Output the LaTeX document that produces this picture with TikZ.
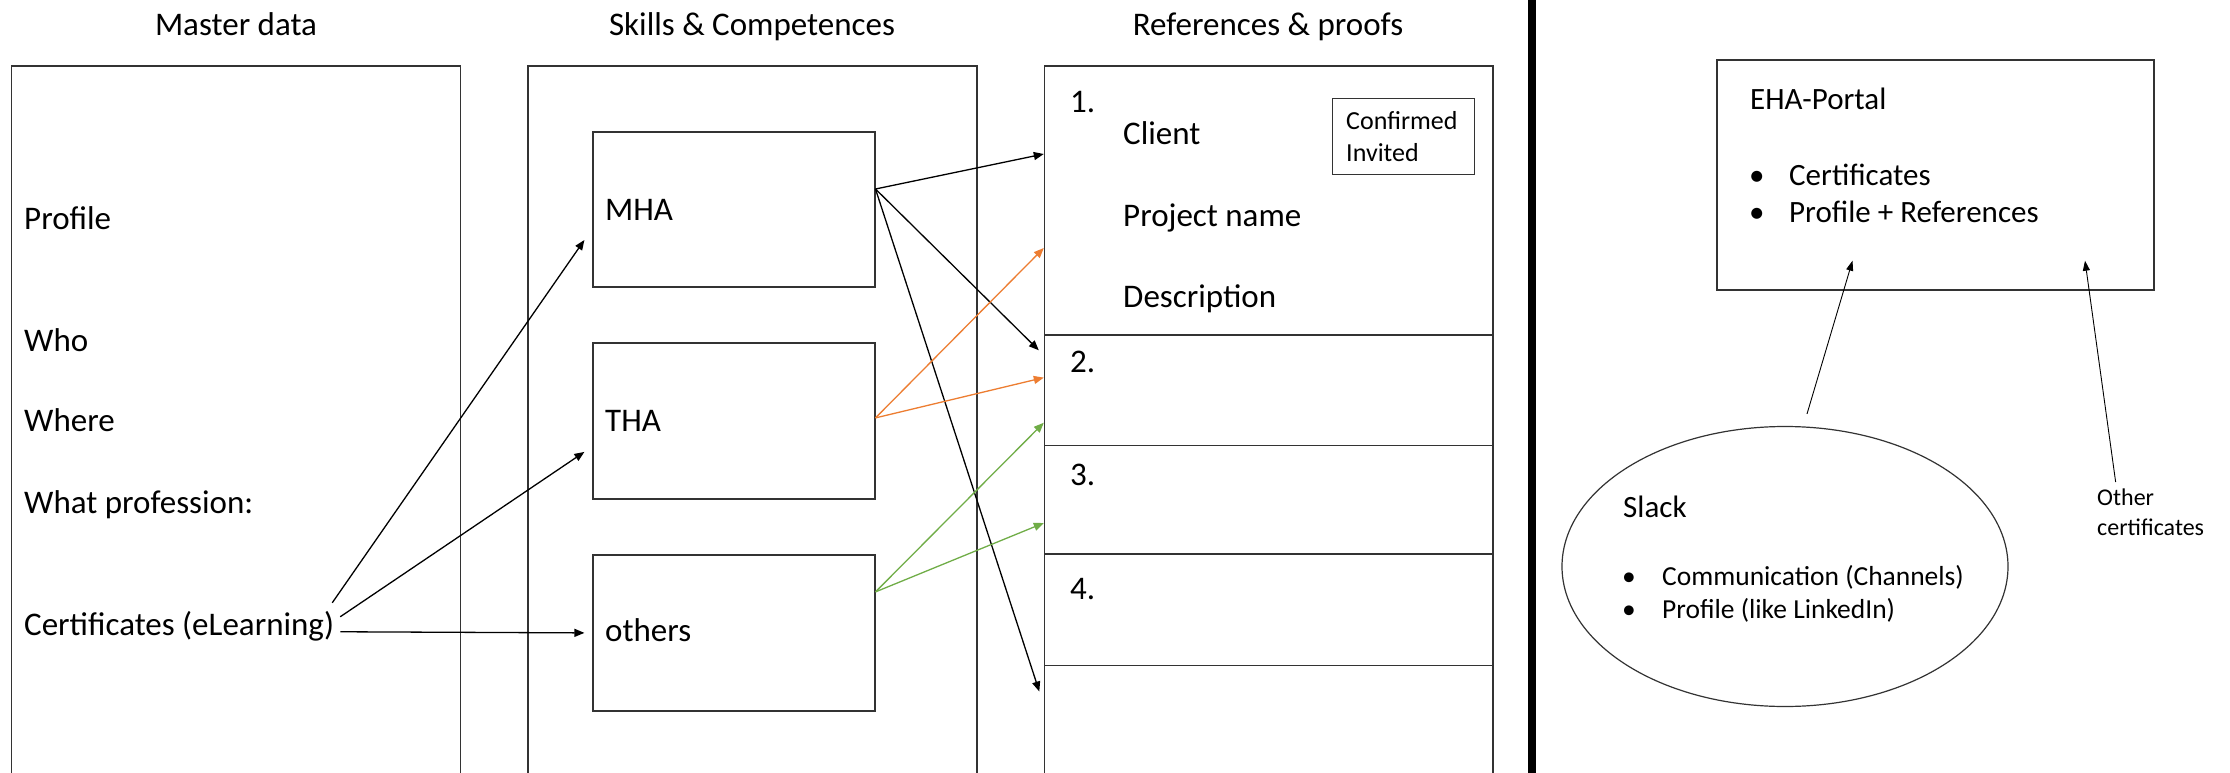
\documentclass[tikz,border=0pt]{standalone}
\usepackage{fontspec}
\setmainfont{Carlito}
\usetikzlibrary{arrows.meta,shapes.geometric}
\definecolor{offorange}{HTML}{ED7D31}
\definecolor{offgreen}{HTML}{70AD47}
\begin{document}
\begin{tikzpicture}[x=1pt,y=-1pt,
  box/.style={draw=black!80, line width=1.4pt, rectangle, inner sep=0pt},
  txt/.style={inner sep=0pt, anchor=base west, font=\fontsize{33}{40}\selectfont},
  head/.style={inner sep=0pt, anchor=base, font=\fontsize{33}{40}\selectfont},
  mid/.style={inner sep=0pt, anchor=base west, font=\fontsize{31}{37}\selectfont},
  small/.style={inner sep=0pt, anchor=base west, font=\fontsize{27.5}{33}\selectfont},
  conn/.style={line width=1.3pt, -{Triangle[length=10pt,width=8pt]}},
  thinconn/.style={line width=0.9pt, -{Triangle[length=10pt,width=7pt]}}
]
\clip (0,0) rectangle (2230,773);
\fill[white] (0,0) rectangle (2230,773);

% headings
\node[head] (hmaster) at (236,36) {Master data};
\node[head] (hskills) at (752,36) {Skills \& Competences};
\node[head] (hrefs) at (1268,36) {References \& proofs};

% column boxes
\node[box, minimum width=449pt, minimum height=734pt] (master) at (236,433) {};
\node[box, minimum width=449pt, minimum height=734pt] (skills) at (752.3,433) {};

% master texts
\node[txt] (profile) at (24,229) {Profile};
\node[txt] (who) at (24,351) {Who};
\node[txt] (where) at (24,431) {Where};
\node[txt] (prof) at (24,513) {What profession:};
\node[txt] (cert) at (24,635) {Certificates (eLearning)};

% skill boxes
\node[box, minimum width=282pt, minimum height=155pt] (mha) at (733.8,209.5) {};
\node[box, minimum width=282pt, minimum height=156pt] (tha) at (733.8,420.9) {};
\node[box, minimum width=282pt, minimum height=156pt] (others) at (733.8,632.9) {};
\node[txt] (tmha) at (605,220) {MHA};
\node[txt] (ttha) at (605,431) {THA};
\node[txt] (tothers) at (605,641) {others};

% reference rows
\node[box, minimum width=448.5pt, minimum height=269pt] (ref1) at (1268.75,200.5) {};
\node[box, minimum width=448.5pt, minimum height=110.6pt] (ref2) at (1268.75,390.3) {};
\node[box, minimum width=448.5pt, minimum height=108.4pt] (ref3) at (1268.75,499.8) {};
\node[box, minimum width=448.5pt, minimum height=111.6pt] (ref4) at (1268.75,609.8) {};
\node[box, minimum width=448.5pt, minimum height=134.4pt] (ref5) at (1268.75,732.8) {};
\node[txt] (n1) at (1070,113) {1.};
\node[txt] (client) at (1123,145) {Client};
\node[txt] (pname) at (1123,226.5) {Project name};
\node[txt] (desc) at (1123,307) {Description};
\node[txt] (n2) at (1070,372) {2.};
\node[txt] (n3) at (1070,485) {3.};
\node[txt] (n4) at (1070,599) {4.};
\node[box, anchor=north west, minimum width=142pt, minimum height=76pt,
      align=left, inner xsep=14pt, text width=114pt,
      font=\fontsize{26}{32}\selectfont] (conf) at (1331.5,98) {Confirmed\\Invited};

% separator
\draw[line width=8pt] (1532,-5) -- (1532,780);

% EHA portal
\node[box, minimum width=437pt, minimum height=230pt] (eha) at (1935.5,175) {};
\node[mid] (ehat) at (1750,110) {EHA-Portal};
\node[mid] (b1) at (1749,185) {•};
\node[mid] (ecert) at (1789,185) {Certificates};
\node[mid] (b2) at (1749,222.7) {•};
\node[mid] (eprof) at (1789,222.7) {Profile + References};

% Slack ellipse
\node[draw=black!80, line width=1.2pt, ellipse, inner sep=0pt,
      minimum width=446pt, minimum height=280pt] (slack) at (1785,566.5) {};
\node[mid] (slackt) at (1623,517) {Slack};
\node[small] (sb1) at (1622,585.6) {•};
\node[small] (comm) at (1662,585.6) {Communication (Channels)};
\node[small] (sb2) at (1622,618.5) {•};
\node[small] (sprof) at (1662,618.5) {Profile (like LinkedIn)};

% Other certificates
\node[inner sep=0pt, anchor=north west, align=left,
      font=\fontsize{24}{30}\selectfont] (other) at (2097,489) {Other\\certificates};

% connectors: master -> skills
\draw[conn] ([xshift=-2pt,yshift=23pt]cert.east) -- ([xshift=-7.7pt,yshift=-30.5pt]mha.west);
\draw[conn] ([xshift=6pt,yshift=9pt]cert.east) -- ([xshift=-7.7pt,yshift=-31pt]tha.west);
\draw[conn] ([xshift=6pt,yshift=-6pt]cert.east) -- ([xshift=-7.7pt]others.west);

% skills -> references
\draw[conn] ([yshift=20.5pt]mha.east) -- ([yshift=46.5pt]ref1.west);
\draw[conn] ([yshift=20.5pt]mha.east) -- ([xshift=-5pt,yshift=40pt]ref2.west);
\draw[conn] ([yshift=20.5pt]mha.east) -- ([xshift=-4.5pt,yshift=41.3pt]ref5.west);
\draw[conn, offorange] ([yshift=3pt]tha.east) -- ([yshift=-47.5pt]ref1.west);
\draw[conn, offorange] ([yshift=3pt]tha.east) -- ([yshift=12.7pt]ref2.west);
\draw[conn, offgreen] ([yshift=41pt]others.east) -- ([yshift=-32.4pt]ref2.west);
\draw[conn, offgreen] ([yshift=41pt]others.east) -- ([yshift=-23.2pt]ref3.west);

% to EHA portal
\draw[thinconn] ([xshift=22pt,yshift=12pt]slack.north) -- ([xshift=-83pt,yshift=30pt]eha.south);
\draw[thinconn] ([xshift=-35pt,yshift=7pt]other.north) -- ([xshift=149.5pt,yshift=30pt]eha.south);
\end{tikzpicture}
\end{document}
